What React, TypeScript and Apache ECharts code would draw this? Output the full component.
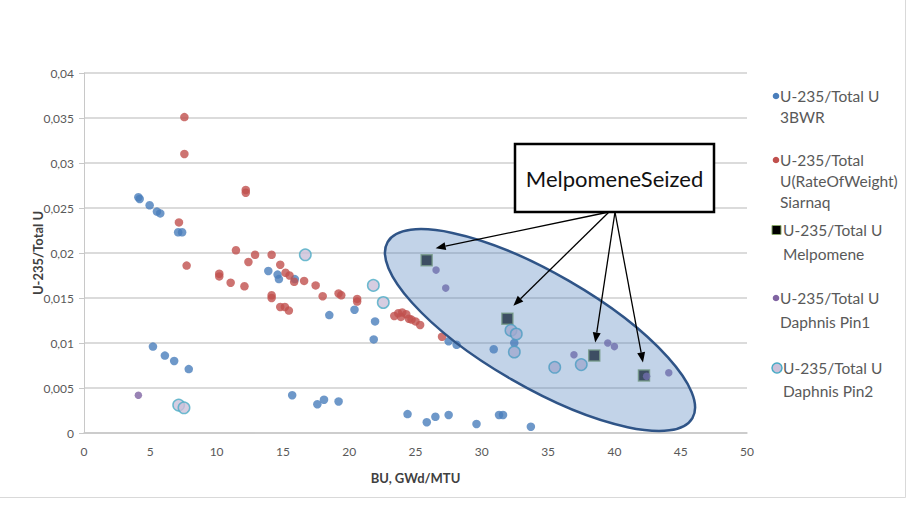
import React, { useEffect, useRef } from "react";
import * as echarts from "echarts";

const seriesNames = [
  "U-235/Total U 3BWR",
  "U-235/Total U(RateOfWeight) Siarnaq",
  "U-235/Total U Melpomene",
  "U-235/Total U Daphnis Pin1",
  "U-235/Total U Daphnis Pin2",
];

const legendLines = [
  ["U-235/Total U", "3BWR"],
  ["U-235/Total", "U(RateOfWeight)", "Siarnaq"],
  ["U-235/Total U", "Melpomene"],
  ["U-235/Total U", "Daphnis Pin1"],
  ["U-235/Total U", "Daphnis Pin2"],
];

const bwr3 = [
  [4.1, 0.0262], [4.2, 0.026], [4.95, 0.0253], [5.5, 0.0246], [5.75, 0.0244],
  [7.1, 0.0223], [7.4, 0.0223],
  [5.2, 0.0096], [6.1, 0.0086], [6.8, 0.008], [7.9, 0.0071],
  [13.9, 0.018], [14.6, 0.0176], [14.7, 0.0171], [15.9, 0.0171],
  [18.5, 0.0131], [20.4, 0.0137], [21.95, 0.0124], [21.85, 0.0104],
  [27.5, 0.0102], [28.1, 0.0098], [30.9, 0.0093], [32.45, 0.01],
  [15.7, 0.0042], [17.6, 0.0032], [18.1, 0.0037], [19.2, 0.0035],
  [24.4, 0.0021], [25.85, 0.0012], [26.5, 0.0018], [27.5, 0.002],
  [29.6, 0.001], [31.3, 0.002], [31.6, 0.002], [33.7, 0.0007],
];

const siarnaq = [
  [7.57, 0.0351], [7.57, 0.031], [12.2, 0.027], [12.2, 0.0267], [7.16, 0.0234], [7.74, 0.0186],
  [10.2, 0.0177], [10.2, 0.0174], [11.06, 0.0167], [12.1, 0.0163], [11.46, 0.0203], [12.4, 0.019],
  [12.9, 0.0198], [14.15, 0.0198], [14.8, 0.0187], [15.2, 0.0178], [15.5, 0.0175], [15.85, 0.0168],
  [16.6, 0.0169], [14.15, 0.0153], [14.15, 0.015], [14.8, 0.014], [15.15, 0.014], [15.45, 0.0136],
  [17.47, 0.0164], [18.0, 0.0152], [19.2, 0.0155], [19.4, 0.0153], [20.6, 0.0149], [20.6, 0.0146],
  [23.4, 0.013], [23.7, 0.0133], [24.0, 0.0134], [24.3, 0.0132], [23.9, 0.0129], [24.5, 0.0127],
  [24.7, 0.0126], [25.0, 0.0124], [25.35, 0.012], [27.0, 0.0107],
];

const melpomene = [
  [25.84, 0.0192], [31.93, 0.0127], [38.48, 0.0086], [42.23, 0.0064],
];

const daphnisPin1 = [
  [4.1, 0.0042], [26.55, 0.0181], [27.28, 0.0161], [36.95, 0.0087],
  [39.5, 0.01], [40.0, 0.0096], [42.43, 0.0063], [44.1, 0.0067],
];

const daphnisPin2 = [
  [7.14, 0.0031], [7.54, 0.0028], [16.69, 0.0198], [21.82, 0.0164], [22.57, 0.0145],
  [32.2, 0.0114], [32.6, 0.011], [32.45, 0.009], [35.5, 0.0073], [37.5, 0.0076],
];

const calloutText = "MelpomeneSeized";
const ellipseCenter = [34.39, 0.01144];

const colors = {
  blue: "#4a7ebb",
  red: "#c0504d",
  black: "#000000",
  purple: "#8064a2",
  pin2Fill: "#ccc1da",
  pin2Border: "#4bacc6",
  melBorder: "#8aa86a",
};

const FONT = "Lato, 'Open Sans', sans-serif";

export default function App() {
  const ref = useRef<HTMLDivElement>(null);

  useEffect(() => {
    const chart = echarts.init(ref.current!, null, { renderer: "svg" });
    chart.setOption({
      animation: false,
      backgroundColor: "#ffffff",
      grid: { left: 84, right: 170, top: 73, bottom: 74, containLabel: false },
      xAxis: {
        type: "value",
        min: 0,
        max: 50,
        interval: 5,
        name: "BU, GWd/MTU",
        nameLocation: "middle",
        nameGap: 38,
        nameMoveOverlap: false,
        nameTextStyle: { fontFamily: FONT, fontWeight: "bold", fontSize: 13, color: "#404040" },
        axisLine: { show: true, lineStyle: { color: "#c8c8c8", width: 1.5 } },
        axisTick: { show: false },
        splitLine: { show: false },
        axisLabel: { fontFamily: FONT, fontSize: 12, color: "#595959", margin: 12 },
      },
      yAxis: {
        type: "value",
        min: 0,
        max: 0.04,
        interval: 0.005,
        name: "U-235/Total U",
        nameLocation: "middle",
        nameGap: 40,
        nameMoveOverlap: false,
        nameTextStyle: { fontFamily: FONT, fontWeight: "bold", fontSize: 13, color: "#404040" },
        axisLine: { show: true, lineStyle: { color: "#c8c8c8", width: 1 } },
        axisTick: { show: true, length: 5, lineStyle: { color: "#c8c8c8" } },
        splitLine: { show: true, lineStyle: { color: "#cfcfcf", width: 1.5 } },
        axisLabel: {
          fontFamily: FONT,
          fontSize: 12,
          color: "#595959",
          margin: 10,
          formatter: (v: number) => String(Number(v.toFixed(3))).replace(".", ","),
        },
      },
      series: [
        { type: "scatter", name: seriesNames[0], data: bwr3, symbol: "circle", symbolSize: 8.5, itemStyle: { color: colors.blue } },
        { type: "scatter", name: seriesNames[1], data: siarnaq, symbol: "circle", symbolSize: 8.5, itemStyle: { color: colors.red } },
        {
          type: "scatter", name: seriesNames[2], data: melpomene, symbol: "rect", symbolSize: 11,
          itemStyle: { color: colors.black, borderColor: colors.melBorder, borderWidth: 1.5 },
        },
        { type: "scatter", name: seriesNames[3], data: daphnisPin1, symbol: "circle", symbolSize: 7.5, itemStyle: { color: colors.purple } },
        {
          type: "scatter", name: seriesNames[4], data: daphnisPin2, symbol: "circle", symbolSize: 11.5,
          itemStyle: { color: colors.pin2Fill, borderColor: colors.pin2Border, borderWidth: 1.5 },
        },
      ],
    });

    const toPx = (p: number[]) => chart.convertToPixel({ gridIndex: 0 }, p) as number[];
    const c = toPx(ellipseCenter);
    const graphics: any[] = [];

    // Ellipse highlight
    graphics.push({
      type: "ellipse",
      x: c[0],
      y: c[1],
      rotation: (-30 * Math.PI) / 180,
      shape: { cx: 0, cy: 0, rx: 176, ry: 57 },
      style: { fill: "rgba(79,129,189,0.35)", stroke: "#2f5487", lineWidth: 2.5 },
      z: 20,
    });

    // Arrows from callout box to Melpomene points
    const starts = [[609, 212], [609, 212], [615, 212], [615, 212]];
    const tipOffsets = [[9, -12], [6, -13], [1, -13], [-1, -13]];
    melpomene.forEach((p, i) => {
      const pp = toPx(p);
      const tip = [pp[0] + tipOffsets[i][0], pp[1] + tipOffsets[i][1]];
      const s = starts[i];
      const dx = tip[0] - s[0];
      const dy = tip[1] - s[1];
      const len = Math.sqrt(dx * dx + dy * dy);
      const ux = dx / len;
      const uy = dy / len;
      const hl = 10;
      const hw = 4;
      const bx = tip[0] - ux * hl;
      const by = tip[1] - uy * hl;
      graphics.push({
        type: "line",
        shape: { x1: s[0], y1: s[1], x2: bx, y2: by },
        style: { stroke: "#000", lineWidth: 1.3 },
        z: 21,
      });
      graphics.push({
        type: "polygon",
        shape: {
          points: [
            [tip[0], tip[1]],
            [bx - uy * hw, by + ux * hw],
            [bx + uy * hw, by - ux * hw],
          ],
        },
        style: { fill: "#000" },
        z: 21,
      });
    });

    // Callout box
    graphics.push({
      type: "rect",
      shape: { x: 515, y: 144, width: 199, height: 68 },
      style: { fill: "#ffffff", stroke: "#000000", lineWidth: 2.5 },
      z: 22,
    });
    graphics.push({
      type: "text",
      x: 614.5,
      y: 178,
      style: {
        text: calloutText,
        fontFamily: FONT,
        fontSize: 22,
        fill: "#111",
        align: "center",
        verticalAlign: "middle",
      },
      z: 23,
    });

    // Legend
    const legendY = [[96, 117], [160, 181, 202], [230, 254], [298, 322], [368, 391]];
    legendLines.forEach((lines, i) => {
      const y0 = legendY[i][0];
      let sym: any;
      if (i === 2) {
        sym = {
          type: "rect",
          shape: { x: 772, y: y0 - 4.5, width: 9, height: 9 },
          style: { fill: colors.black, stroke: colors.melBorder, lineWidth: 1 },
        };
      } else if (i === 4) {
        sym = {
          type: "circle",
          shape: { cx: 777, cy: y0, r: 5 },
          style: { fill: colors.pin2Fill, stroke: colors.pin2Border, lineWidth: 1.5 },
        };
      } else {
        sym = {
          type: "circle",
          shape: { cx: 776, cy: y0, r: 3.3 },
          style: { fill: [colors.blue, colors.red, "", colors.purple][i] },
        };
      }
      graphics.push({ ...sym, z: 5 });
      const tx = i === 2 || i === 4 ? 783 : 780;
      lines.forEach((ln, j) => {
        graphics.push({
          type: "text",
          x: tx,
          y: legendY[i][j],
          style: {
            text: ln,
            fontFamily: FONT,
            fontSize: 15.5,
            fill: "#595959",
            align: "left",
            verticalAlign: "middle",
          },
          z: 5,
        });
      });
    });

    // Chart frame (right & bottom)
    graphics.push({
      type: "polyline",
      shape: { points: [[905.5, 0], [905.5, 497.5], [0, 497.5]] },
      style: { stroke: "#d9d9d9", lineWidth: 1, fill: "none" },
      z: 1,
    });

    chart.setOption({ graphic: graphics });

    return () => chart.dispose();
  }, []);

  return (
    <div
      ref={ref}
      style={{ position: "fixed", left: 0, top: 0, width: 917, height: 507 }}
    />
  );
}
